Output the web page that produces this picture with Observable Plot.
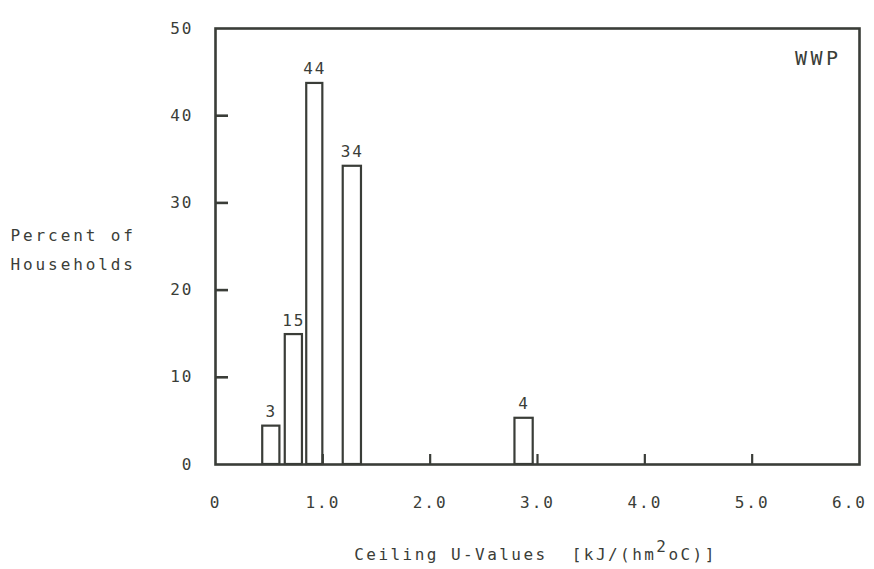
<!DOCTYPE html>
<html>
<head>
<meta charset="utf-8">
<script src="https://cdn.jsdelivr.net/npm/d3@7"></script>
<script src="https://cdn.jsdelivr.net/npm/@observablehq/plot@0.6"></script>
<style>
  html, body { margin: 0; padding: 0; background: #ffffff; }
  #chart { width: 874px; height: 569px; }
</style>
</head>
<body>
<div id="chart"></div>
<script>
// ---- data ----
const binStart = [0.44, 0.65, 0.85, 1.19, 2.79];   // U-value bin left edges
const binEnd   = [0.60, 0.81, 1.00, 1.36, 2.96];   // U-value bin right edges
const percent  = [4.4, 14.9, 43.7, 34.2, 5.3];     // bar heights (percent of households)
const barLabels = ["3", "15", "44", "34", "4"];     // printed labels above bars

const xTicks = [0, 1, 2, 3, 4, 5];
const xTickLabels = ["0", "1.0", "2.0", "3.0", "4.0", "5.0"];
const xLastTick = [6];
const xLastTickLabel = "6.0";
const yTicks = [0, 10, 20, 30, 40, 50];
const yTickLabels = ["0", "10", "20", "30", "40", "50"];
const xInnerTicks = [1, 2, 3, 4, 5];
const yInnerTicks = [10, 20, 30, 40];

const panelLabel = "WWP";
const yTitle = "Percent of\nHouseholds";
const xTitle = "Ceiling U-Values  [kJ/(hm2oC)]";

// ---- build ----
const bars = binStart.map((s, i) => ({x1: s, x2: binEnd[i], y: percent[i], label: barLabels[i]}));

const W = 874, H = 569;
const mL = 215, mR = 15, mT = 28, mB = 105;
const frameW = W - mL - mR, frameH = H - mT - mB;
const ink = "#3a3d38";
const font = "'DejaVu Sans Mono', 'Liberation Mono', monospace";

const chart = Plot.plot({
  width: W,
  height: H,
  marginLeft: mL,
  marginRight: mR,
  marginTop: mT,
  marginBottom: mB,
  x: {domain: [0, 6]},
  y: {domain: [0, 50]},
  style: {fontFamily: font, fontSize: "16px", color: ink, background: "#ffffff", letterSpacing: "2px", overflow: "visible"},
  marks: [
    Plot.rectY(bars, {x1: "x1", x2: "x2", y: "y", fill: "#ffffff", stroke: ink, strokeWidth: 2.2}),
    Plot.frame({stroke: ink, strokeWidth: 2.6}),
    Plot.tickY(yInnerTicks, {y: d => d, insetRight: frameW - 13, stroke: ink, strokeWidth: 2.6}),
    Plot.tickX(xInnerTicks, {x: d => d, insetTop: frameH - 10, stroke: ink, strokeWidth: 2.2}),
    Plot.text(bars, {x: d => (d.x1 + d.x2) / 2, y: "y", text: "label", lineAnchor: "bottom", dy: -9, fill: ink, fontSize: 16}),
    Plot.axisX({ticks: xTicks, tickFormat: d => xTickLabels[xTicks.indexOf(d)], tickSize: 0, tickPadding: 32, label: null, fill: ink, fontSize: 16}),
    Plot.text(xLastTick, {x: d => d, frameAnchor: "bottom", lineAnchor: "top", text: () => xLastTickLabel, dx: -10, dy: 32, fill: ink, fontSize: 16}),
    Plot.axisY({ticks: yTicks, tickFormat: d => yTickLabels[yTicks.indexOf(d)], tickSize: 0, tickPadding: 22, label: null, fill: ink, fontSize: 16}),
    Plot.text([panelLabel], {frameAnchor: "top-right", textAnchor: "end", lineAnchor: "middle", dx: -18, dy: 30, fontSize: 20, fill: ink}),
    Plot.text([yTitle], {frameAnchor: "left", textAnchor: "start", lineAnchor: "middle", dx: -205, lineHeight: 1.8, fontSize: 16, fill: ink}),
    Plot.text([xTitle], {frameAnchor: "bottom", textAnchor: "middle", lineAnchor: "bottom", dx: -2, dy: 95, fontSize: 16, fill: ink})
  ]
});

// per-text letter spacing to match the plotter lettering widths
d3.select(chart).selectAll("text").filter(function () { return this.textContent.startsWith("Percent") || this.textContent.startsWith("Households"); })
  .style("letter-spacing", "2.9px");
d3.select(chart).selectAll("text").filter(function () { return this.textContent === panelLabel; })
  .style("letter-spacing", "3.5px");

// superscript the "2" in the x title
d3.select(chart).selectAll("text").filter(function () { return this.textContent === xTitle; })
  .each(function () {
    const t = d3.select(this);
    t.style("letter-spacing", "2.45px");
    t.text(null);
    t.append("tspan").text("Ceiling U-Values  [kJ/(hm");
    t.append("tspan").attr("dy", "-0.5em").text("2");
    t.append("tspan").attr("dy", "0.5em").text("oC)]");
  });

document.getElementById("chart").appendChild(chart);
</script>
</body>
</html>
